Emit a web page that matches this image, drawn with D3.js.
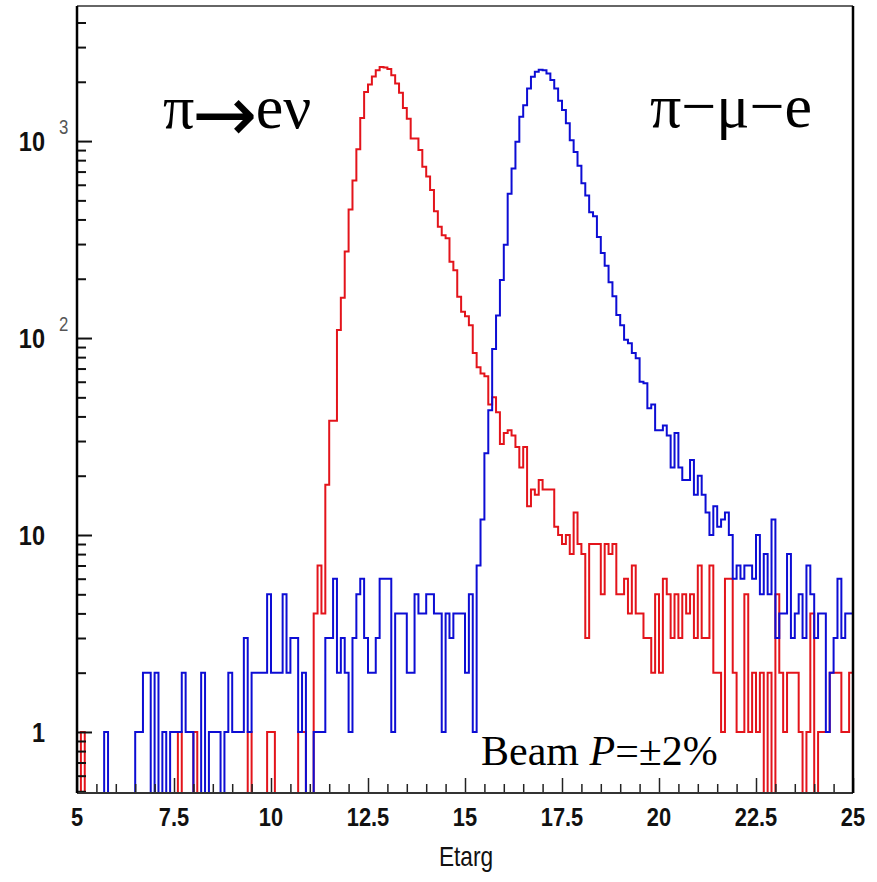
<!DOCTYPE html>
<html>
<head>
<meta charset="utf-8">
<script src="https://cdn.jsdelivr.net/npm/d3@7"></script>
<style>
  body { margin: 0; background: #ffffff; }
  svg { display: block; }
</style>
</head>
<body>
<svg id="chart" width="877" height="882"></svg>
<script>
// Histogram binning: 200 bins of width 0.1 between 5 and 25
const binLow = 5;
const binHigh = 25;
const binCount = 200;

// Axis ticks
const xMajorTicks = [5, 7.5, 10, 12.5, 15, 17.5, 20, 22.5, 25];
const xTickLabels = ["5", "7.5", "10", "12.5", "15", "17.5", "20", "22.5", "25"];
const yMajorTicks = [1, 10, 100, 1000];
const yTickBase = ["1", "10", "10", "10"];
const yTickExp = ["", "", "2", "3"];

// π → e ν events per bin
const piEnuCounts = [
  0, 1, 0, 0, 0, 0, 0, 0, 0, 0,
  0, 0, 0, 0, 0, 0, 0, 0, 0, 0,
  0, 0, 0, 0, 0, 0, 1, 0, 0, 0,
  1, 0, 0, 0, 0, 0, 0, 0, 0, 0,
  0, 0, 0, 0, 1, 0, 0, 0, 0, 1,
  1, 0, 0, 0, 0, 0, 0, 1, 1, 0,
  0, 4, 7, 4, 18, 38, 38, 110, 160, 275,
  450, 630, 910, 1310, 1775, 1940, 2130, 2290, 2380, 2360,
  2320, 2160, 1960, 1760, 1470, 1300, 1030, 1030, 900, 740,
  660, 565, 440, 367, 333, 321, 244, 221, 162, 136,
  129, 116, 84, 71, 66, 64, 46, 50, 42, 29,
  33, 34, 32, 28, 22, 28, 14, 17, 16, 19,
  17, 17, 17, 11, 10, 9, 10, 8, 13, 9,
  8, 3, 9, 9, 9, 5, 9, 8, 9, 5,
  5, 6, 4, 7, 4, 4, 3, 3, 2, 5,
  2, 6, 5, 3, 5, 3, 5, 4, 5, 3,
  7, 3, 3, 7, 2, 2, 1, 6, 6, 2,
  1, 1, 5, 1, 2, 1, 2, 0, 2, 0,
  5, 2, 1, 2, 2, 2, 1, 0, 1, 4,
  0, 1, 1, 1, 2, 2, 2, 1, 1, 2
];

// π → μ → e events per bin
const piMuECounts = [
  0, 0, 0, 0, 0, 0, 0, 1, 0, 0,
  0, 0, 0, 0, 0, 1, 1, 2, 2, 0,
  2, 0, 1, 0, 1, 1, 1, 2, 1, 1,
  0, 0, 2, 0, 1, 1, 1, 0, 1, 2,
  1, 1, 1, 3, 1, 2, 2, 2, 2, 5,
  2, 2, 2, 5, 2, 3, 3, 1, 2, 0,
  0, 1, 1, 1, 3, 3, 6, 2, 3, 2,
  1, 3, 5, 6, 3, 2, 2, 3, 6, 6,
  6, 1, 4, 4, 4, 2, 2, 5, 4, 4,
  5, 5, 4, 4, 1, 4, 3, 4, 4, 4,
  2, 5, 1, 7, 12, 26, 43, 88, 130, 197,
  298, 540, 726, 993, 1330, 1520, 1850, 2120, 2250, 2300,
  2290, 2200, 2040, 1850, 1600, 1440, 1230, 1010, 880, 750,
  610, 530, 435, 415, 326, 270, 233, 192, 163, 131,
  116, 98, 94, 84, 79, 60, 59, 44, 46, 34,
  34, 36, 32, 22, 33, 22, 19, 19, 24, 16,
  20, 16, 13, 10, 14, 11, 12, 13, 10, 6,
  7, 6, 7, 7, 6, 10, 5, 8, 5, 12,
  3, 4, 4, 8, 3, 4, 5, 3, 7, 5,
  3, 4, 4, 1, 2, 3, 6, 3, 4, 4
];

const seriesList = [
  { name: "piEnu", counts: piEnuCounts, color: "#e3141b" },
  { name: "piMuE", counts: piMuECounts, color: "#0d0dd4" }
];

const svg = d3.select("#chart");

// Frame geometry
const frame = { left: 77, right: 853, top: 6, bottom: 793 };

const x = d3.scaleLinear().domain([binLow, binHigh]).range([frame.left, frame.right]);
const yMin = 0.49, yMax = 4850;
const y = d3.scaleLog().domain([yMin, yMax]).range([frame.bottom, frame.top]).clamp(true);

const binWidth = (binHigh - binLow) / binCount;

svg.append("defs").append("clipPath").attr("id", "frameClip")
  .append("rect")
  .attr("x", frame.left).attr("y", frame.top)
  .attr("width", frame.right - frame.left).attr("height", frame.bottom - frame.top);

// Step outline for a histogram: each bin gives its left and right corner
function stepPoints(counts) {
  const pts = [];
  counts.forEach((c, i) => {
    const lo = binLow + i * binWidth;
    const hi = lo + binWidth;
    const v = c > 0 ? c : yMin;
    pts.push([lo, v], [hi, v]);
  });
  return pts;
}

const stepLine = d3.line()
  .x(d => x(d[0]))
  .y(d => y(d[1]));

const plot = svg.append("g").attr("clip-path", "url(#frameClip)");

seriesList.forEach(s => {
  plot.append("path")
    .datum(stepPoints(s.counts))
    .attr("fill", "none")
    .attr("stroke", s.color)
    .attr("stroke-width", 2)
    .attr("stroke-linejoin", "miter")
    .attr("d", stepLine);
});

// Y axis: decade ticks and sub-decade ticks drawn inward from the left frame
const yMinorTicks = [];
for (let e = -1; e <= 3; e++) {
  for (let m = 2; m <= 9; m++) {
    const v = m * Math.pow(10, e);
    if (v >= yMin && v <= yMax) yMinorTicks.push(v);
  }
}

const yAxisMinor = d3.axisRight(y).tickValues(yMinorTicks).tickSize(9).tickFormat("");
const yAxisMajor = d3.axisRight(y).tickValues(yMajorTicks).tickSize(15).tickFormat("");

svg.append("g").attr("transform", `translate(${frame.left},0)`).call(yAxisMinor)
  .call(g => g.select(".domain").remove())
  .selectAll("line").attr("stroke", "#111").attr("stroke-width", 2);
svg.append("g").attr("transform", `translate(${frame.left},0)`).call(yAxisMajor)
  .call(g => g.select(".domain").remove())
  .selectAll("line").attr("stroke", "#111").attr("stroke-width", 2);

// X axis: ticks every 0.5, longer every 2.5, pointing up from the bottom frame
const xMinorTicks = d3.range(binLow, binHigh + 0.001, 0.5).filter(v => !xMajorTicks.includes(v));
const xAxisMinor = d3.axisTop(x).tickValues(xMinorTicks).tickSize(9).tickFormat("");
const xAxisMajor = d3.axisTop(x).tickValues(xMajorTicks).tickSize(15).tickFormat("");

svg.append("g").attr("transform", `translate(0,${frame.bottom})`).call(xAxisMinor)
  .call(g => g.select(".domain").remove())
  .selectAll("line").attr("stroke", "#222").attr("stroke-width", 1.5);
svg.append("g").attr("transform", `translate(0,${frame.bottom})`).call(xAxisMajor)
  .call(g => g.select(".domain").remove())
  .selectAll("line").attr("stroke", "#222").attr("stroke-width", 1.5);

// Frame lines
svg.append("line").attr("x1", frame.left).attr("x2", frame.right)
  .attr("y1", frame.top).attr("y2", frame.top)
  .attr("stroke", "#333").attr("stroke-width", 1.5);
svg.append("line").attr("x1", frame.left).attr("x2", frame.right)
  .attr("y1", frame.bottom).attr("y2", frame.bottom)
  .attr("stroke", "#333").attr("stroke-width", 2);
svg.append("line").attr("x1", frame.left).attr("x2", frame.left)
  .attr("y1", frame.top).attr("y2", frame.bottom)
  .attr("stroke", "#000").attr("stroke-width", 2.5);
svg.append("line").attr("x1", frame.right).attr("x2", frame.right)
  .attr("y1", frame.top).attr("y2", frame.bottom)
  .attr("stroke", "#000").attr("stroke-width", 2.5);

const sans = "'Liberation Sans', Arial, sans-serif";
const narrow = 0.84;

// X tick labels, horizontally condensed
svg.append("g").selectAll("text")
  .data(xMajorTicks)
  .join("text")
  .attr("transform", d => `translate(${x(d)},826) scale(${narrow},1)`)
  .attr("text-anchor", "middle")
  .attr("font-family", sans)
  .attr("font-weight", "bold")
  .attr("font-size", 26)
  .attr("fill", "#111")
  .text((d, i) => xTickLabels[i]);

// Y tick labels (powers of ten with raised exponent)
const yLabels = svg.append("g");
yMajorTicks.forEach((v, i) => {
  yLabels.append("text")
    .attr("transform", `translate(45,${y(v) + 10}) scale(${narrow},1)`)
    .attr("text-anchor", "end")
    .attr("font-family", sans)
    .attr("font-weight", "bold")
    .attr("font-size", 28)
    .attr("fill", "#111")
    .text(yTickBase[i]);
  if (yTickExp[i]) {
    yLabels.append("text")
      .attr("transform", `translate(59,${y(v) - 7}) scale(${narrow},1)`)
      .attr("font-family", sans)
      .attr("font-size", 20)
      .attr("fill", "#555")
      .text(yTickExp[i]);
  }
});

// Axis title
svg.append("text")
  .attr("transform", `translate(466,866) scale(${narrow},1)`)
  .attr("text-anchor", "middle")
  .attr("font-family", sans)
  .attr("font-size", 27)
  .attr("fill", "#111")
  .text("Etarg");

// Process labels
const serif = "'Liberation Serif', 'Times New Roman', serif";
const enuLabel = svg.append("text")
  .attr("x", 163).attr("y", 128)
  .attr("font-family", serif).attr("font-size", 62).attr("fill", "#000");
enuLabel.append("tspan").text("π");
enuLabel.append("tspan")
  .attr("font-family", "'DejaVu Sans', sans-serif")
  .attr("font-size", 78)
  .attr("dx", -2).attr("dy", 13)
  .text("→");
enuLabel.append("tspan").attr("dx", -2).attr("dy", -13).text("eν");

svg.append("text")
  .attr("x", 650).attr("y", 127)
  .attr("font-family", serif).attr("font-size", 62).attr("fill", "#000")
  .text("π−μ−e");

const beam = svg.append("text")
  .attr("x", 481).attr("y", 765)
  .attr("font-family", serif).attr("font-size", 42).attr("fill", "#000");
beam.append("tspan").text("Beam ");
beam.append("tspan").attr("font-style", "italic").text("P");
beam.append("tspan").text("=±2%");
</script>
</body>
</html>
